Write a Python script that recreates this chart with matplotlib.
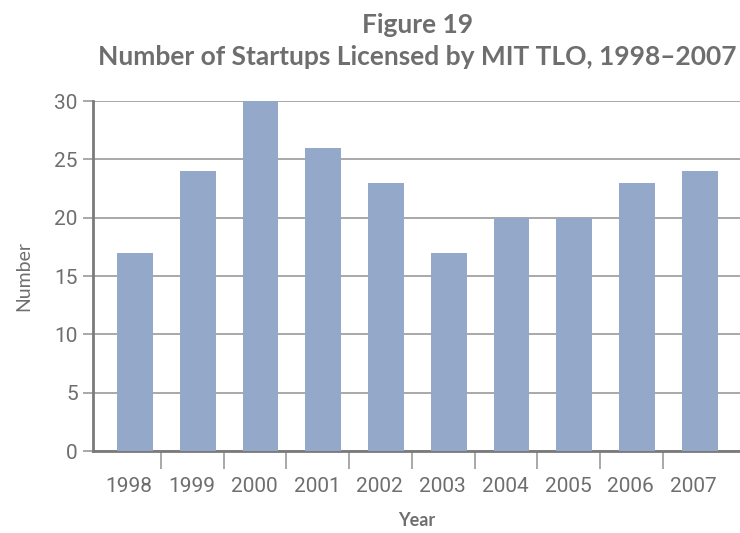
#!/usr/bin/env python
import numpy as np
import matplotlib
matplotlib.use('Agg')
import matplotlib.pyplot as plt

years = ['1998', '1999', '2000', '2001', '2002', '2003', '2004', '2005', '2006', '2007']
startups = [17, 24, 30, 26, 23, 17, 20, 20, 23, 24]

BAR = '#94a8c9'
TXT = '#6e6e6e'
GRID = '#9a9a9a'
narrow = ['Roboto', 'DejaVu Sans']
title_font = ['Lato', 'DejaVu Sans']

fig = plt.figure(figsize=(7.4, 5.33), dpi=100)
ax = fig.add_axes([0.1257, 0.1538, 0.8743, 0.6567])

x = np.arange(len(years))
ax.bar(x, startups, width=0.57, color=BAR, zorder=3)

ax.set_xlim(-0.67, 9.64)
ax.set_ylim(0, 30)

# y axis
ax.set_yticks(np.arange(0, 31, 5))
ax.set_yticklabels([str(v) for v in range(0, 31, 5)], family=narrow,
                   fontsize=15, color=TXT)
ax.grid(axis='y', color=GRID, linewidth=1.2, zorder=0)
ax.tick_params(axis='y', length=7, width=1.2, color=GRID, pad=4)

# x axis: boundary ticks, labels between them
ax.set_xticks(x[:-1] + 0.41, minor=True)
ax.set_xticks(x - 0.1)
ax.set_xticklabels(years, family=narrow, fontsize=15, color=TXT)
ax.tick_params(axis='x', which='major', length=0, pad=19)
ax.tick_params(axis='x', which='minor', length=13, width=1.2, color=GRID)

for side in ['top', 'right']:
  ax.spines[side].set_visible(False)
ax.spines['left'].set_color('#7a7a7a')
ax.spines['left'].set_linewidth(2)
ax.spines['bottom'].set_color('#7a7a7a')
ax.spines['bottom'].set_linewidth(2)

ax.set_ylabel('Number', family=title_font, fontsize=14, color=TXT, labelpad=16)
ax.set_xlabel('Year', family=title_font, fontsize=13, color=TXT,
              fontweight='bold', labelpad=11)

fig.text(0.564, 0.953, 'Figure 19', ha='center', va='center',
         family=title_font, fontsize=19, fontweight='bold', color=TXT)
fig.text(0.564, 0.893, 'Number of Startups Licensed by MIT TLO, 1998\u20132007',
         ha='center', va='center', family=title_font, fontsize=19,
         fontweight='bold', color=TXT)

fig.savefig('out.png', dpi=100)
